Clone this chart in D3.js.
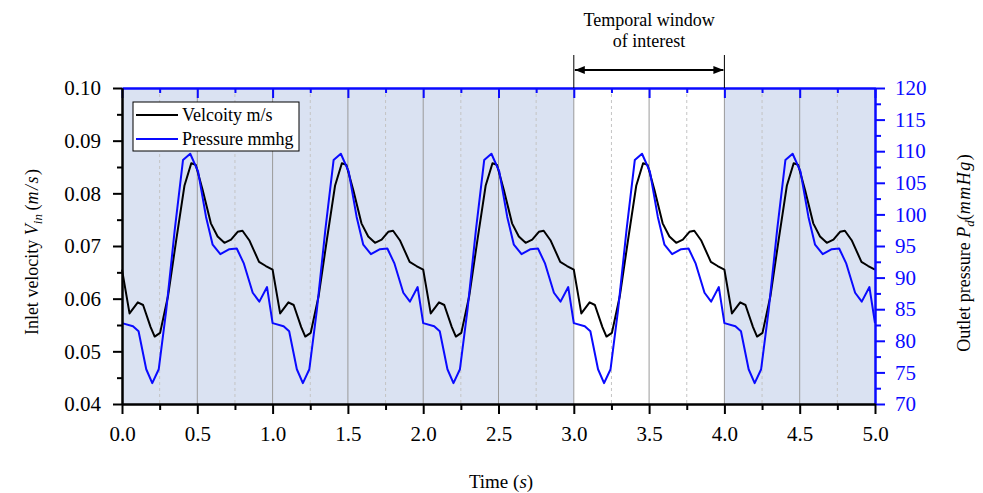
<!DOCTYPE html>
<html><head><meta charset="utf-8">
<script src="https://cdn.jsdelivr.net/npm/d3@7"></script>
<style>
body{margin:0;background:#fff}
text{font-family:"Liberation Serif","Times New Roman",serif}
</style>
</head><body>
<svg id="c" width="983" height="493"></svg>
<script>
// One cardiac cycle (1 s); the chart shows it 5 times
const velocityTime = [0.00,0.05,0.105,0.14,0.19,0.217,0.253,0.305,0.36,0.415,0.46,0.49,0.536,0.59,0.635,0.68,0.724,0.768,0.80,0.845,0.91,0.955];
const velocity     = [0.0655,0.0572,0.0593,0.0588,0.0546,0.0528,0.0535,0.0604,0.0711,0.0815,0.0857,0.0854,0.0806,0.0743,0.0718,0.0706,0.0712,0.0727,0.0729,0.0711,0.0670,0.0662];
const pressureTime = [0.00,0.073,0.11,0.161,0.201,0.244,0.294,0.35,0.405,0.453,0.505,0.558,0.602,0.653,0.713,0.762,0.808,0.868,0.912,0.963];
const pressure     = [82.8,82.3,81.5,75.5,73.3,75.5,84.9,97.5,108.6,109.6,106.8,99.6,95.2,93.7,94.5,94.6,92.3,87.6,86.2,88.5];
const cycles = [0,1,2,3,4];
const shadedSpans = [[0,3],[4,5]];
const windowSpan = [3,4];
const xTicks = [0,0.5,1,1.5,2,2.5,3,3.5,4,4.5,5];
const xMinor = [0.25,0.75,1.25,1.75,2.25,2.75,3.25,3.75,4.25,4.75];
const vTicks = [0.04,0.05,0.06,0.07,0.08,0.09,0.10];
const vMinor = [0.045,0.055,0.065,0.075,0.085,0.095];
const pTicks = [70,75,80,85,90,95,100,105,110,115,120];
const pMinor = [72.5,77.5,82.5,87.5,92.5,97.5,102.5,107.5,112.5,117.5];
const seriesNames = ["Velcoity m/s","Pressure mmhg"];

const BLUE = "#0a0aff";
const svg = d3.select("#c");
const L=122,R=875,T=88,B=404;
const x = d3.scaleLinear([0,5],[L,R]);
const yV = d3.scaleLinear([0.04,0.10],[B,T]);
const yP = d3.scaleLinear([70,120],[B,T]);

// build repeated series
const vData=[], pData=[];
cycles.forEach(c=>{
  velocityTime.forEach((t,i)=>vData.push([c+t,velocity[i]]));
  pressureTime.forEach((t,i)=>pData.push([c+t,pressure[i]]));
});
vData.push([5,velocity[0]]);
pData.push([5,pressure[0]]);

// background shading
svg.selectAll("rect.shade").data(shadedSpans).join("rect")
  .attr("x",d=>x(d[0])).attr("width",d=>x(d[1])-x(d[0]))
  .attr("y",T).attr("height",B-T).attr("fill","#dae2f2");

// grid lines
svg.append("g").selectAll("line").data(xMinor).join("line")
  .attr("x1",d=>x(d)).attr("x2",d=>x(d)).attr("y1",T).attr("y2",B)
  .attr("stroke","#c4c4c4").attr("stroke-width",1).attr("stroke-dasharray","3,3");
svg.append("g").selectAll("line").data(xTicks.slice(1,-1)).join("line")
  .attr("x1",d=>x(d)).attr("x2",d=>x(d)).attr("y1",T).attr("y2",B)
  .attr("stroke","#9a9a9a").attr("stroke-width",1);

// curves
svg.append("path").datum(vData)
  .attr("d",d3.line().x(d=>x(d[0])).y(d=>yV(d[1])))
  .attr("fill","none").attr("stroke","#000").attr("stroke-width",2).attr("stroke-linejoin","round");
svg.append("path").datum(pData)
  .attr("d",d3.line().x(d=>x(d[0])).y(d=>yP(d[1])))
  .attr("fill","none").attr("stroke",BLUE).attr("stroke-width",2).attr("stroke-linejoin","round");

const FS = 21;
function styleAxis(g,color){
  g.select(".domain").attr("stroke",color).attr("stroke-width",2);
  g.selectAll(".tick line").attr("stroke",color).attr("stroke-width",2);
  g.selectAll(".tick text").attr("fill",color).style("font-size",FS+"px")
   .style("font-family",'"Liberation Serif","Times New Roman",serif');
}
// top axis (blue, inward ticks)
let g=svg.append("g").attr("transform",`translate(0,${T})`)
  .call(d3.axisBottom(x).tickValues(xTicks).tickFormat("").tickSizeInner(10).tickSizeOuter(0));
styleAxis(g,BLUE);
g=svg.append("g").attr("transform",`translate(0,${T})`)
  .call(d3.axisBottom(x).tickValues(xMinor).tickFormat("").tickSizeInner(5).tickSizeOuter(0));
styleAxis(g,BLUE);
// right axis (blue)
g=svg.append("g").attr("transform",`translate(${R},0)`)
  .call(d3.axisRight(yP).tickValues(pTicks).tickFormat(d3.format("d")).tickSizeInner(10).tickSizeOuter(0).tickPadding(10));
styleAxis(g,BLUE);
g=svg.append("g").attr("transform",`translate(${R},0)`)
  .call(d3.axisRight(yP).tickValues(pMinor).tickFormat("").tickSizeInner(6).tickSizeOuter(0));
styleAxis(g,BLUE);
// left axis (black)
g=svg.append("g").attr("transform",`translate(${L},0)`)
  .call(d3.axisLeft(yV).tickValues(vTicks).tickFormat(d3.format(".2f")).tickSizeInner(9).tickSizeOuter(0).tickPadding(12));
styleAxis(g,"#000");
g=svg.append("g").attr("transform",`translate(${L},0)`)
  .call(d3.axisLeft(yV).tickValues(vMinor).tickFormat("").tickSizeInner(5).tickSizeOuter(0));
styleAxis(g,"#000");
// bottom axis (black)
g=svg.append("g").attr("transform",`translate(0,${B})`)
  .call(d3.axisBottom(x).tickValues(xTicks).tickFormat(d3.format(".1f")).tickSizeInner(10).tickSizeOuter(0).tickPadding(12));
styleAxis(g,"#000");
g=svg.append("g").attr("transform",`translate(0,${B})`)
  .call(d3.axisBottom(x).tickValues(xMinor).tickFormat("").tickSizeInner(6).tickSizeOuter(0));
styleAxis(g,"#000");

// axis titles
const xt=svg.append("text").attr("x",501).attr("y",488).attr("text-anchor","middle").style("font-size","19px");
xt.append("tspan").text("Time (");
xt.append("tspan").attr("font-style","italic").text("s");
xt.append("tspan").text(")");

const lt=svg.append("text").attr("transform",`translate(38,252) rotate(-90)`).attr("text-anchor","middle").style("font-size","18px");
lt.append("tspan").text("Inlet velocity ");
lt.append("tspan").attr("font-style","italic").text("V");
lt.append("tspan").attr("font-style","italic").attr("dy",4).style("font-size","13px").text("in");
lt.append("tspan").attr("dy",-4).text("\u2009(");
lt.append("tspan").attr("font-style","italic").attr("letter-spacing","1.5").text("m/s");
lt.append("tspan").text(")");

const rt=svg.append("text").attr("transform",`translate(970,253) rotate(-90)`).attr("text-anchor","middle").style("font-size","18px");
rt.append("tspan").text("Outlet pressure ");
rt.append("tspan").attr("font-style","italic").text("P");
rt.append("tspan").attr("font-style","italic").attr("dy",4).style("font-size","13px").text("d");
rt.append("tspan").attr("dy",-4).text("(");
rt.append("tspan").attr("font-style","italic").attr("letter-spacing","1.5").text("mmHg");
rt.append("tspan").text(")");

// legend
const lg=svg.append("g");
lg.append("rect").attr("x",133).attr("y",102).attr("width",166).attr("height",49)
  .attr("fill","#fff").attr("stroke","#000").attr("stroke-width",1);
[["#000",seriesNames[0],115],[BLUE,seriesNames[1],139]].forEach(([c,n,yy])=>{
  lg.append("line").attr("x1",136).attr("x2",178).attr("y1",yy).attr("y2",yy).attr("stroke",c).attr("stroke-width",2);
  lg.append("text").attr("x",182).attr("y",yy+6).style("font-size","18px").text(n);
});

// temporal window annotation
const ax1=x(windowSpan[0]), ax2=x(windowSpan[1]), ay=70;
svg.append("defs").html(`<marker id="ah" viewBox="0 0 10 10" refX="10" refY="5" markerWidth="5" markerHeight="5" orient="auto-start-reverse"><path d="M0,1 L10,5 L0,9 z" fill="#000"/></marker>`);
[ax1,ax2].forEach(xx=>svg.append("line").attr("x1",xx).attr("x2",xx).attr("y1",55).attr("y2",T).attr("stroke","#000").attr("stroke-width",1));
svg.append("line").attr("x1",ax1+1).attr("x2",ax2-1).attr("y1",ay).attr("y2",ay)
  .attr("stroke","#000").attr("stroke-width",2).attr("marker-start","url(#ah)").attr("marker-end","url(#ah)");
svg.append("text").attr("x",(ax1+ax2)/2).attr("y",26).attr("text-anchor","middle").style("font-size","18px").text("Temporal window");
svg.append("text").attr("x",(ax1+ax2)/2).attr("y",47).attr("text-anchor","middle").style("font-size","18px").text("of interest");
</script>
</body></html>
